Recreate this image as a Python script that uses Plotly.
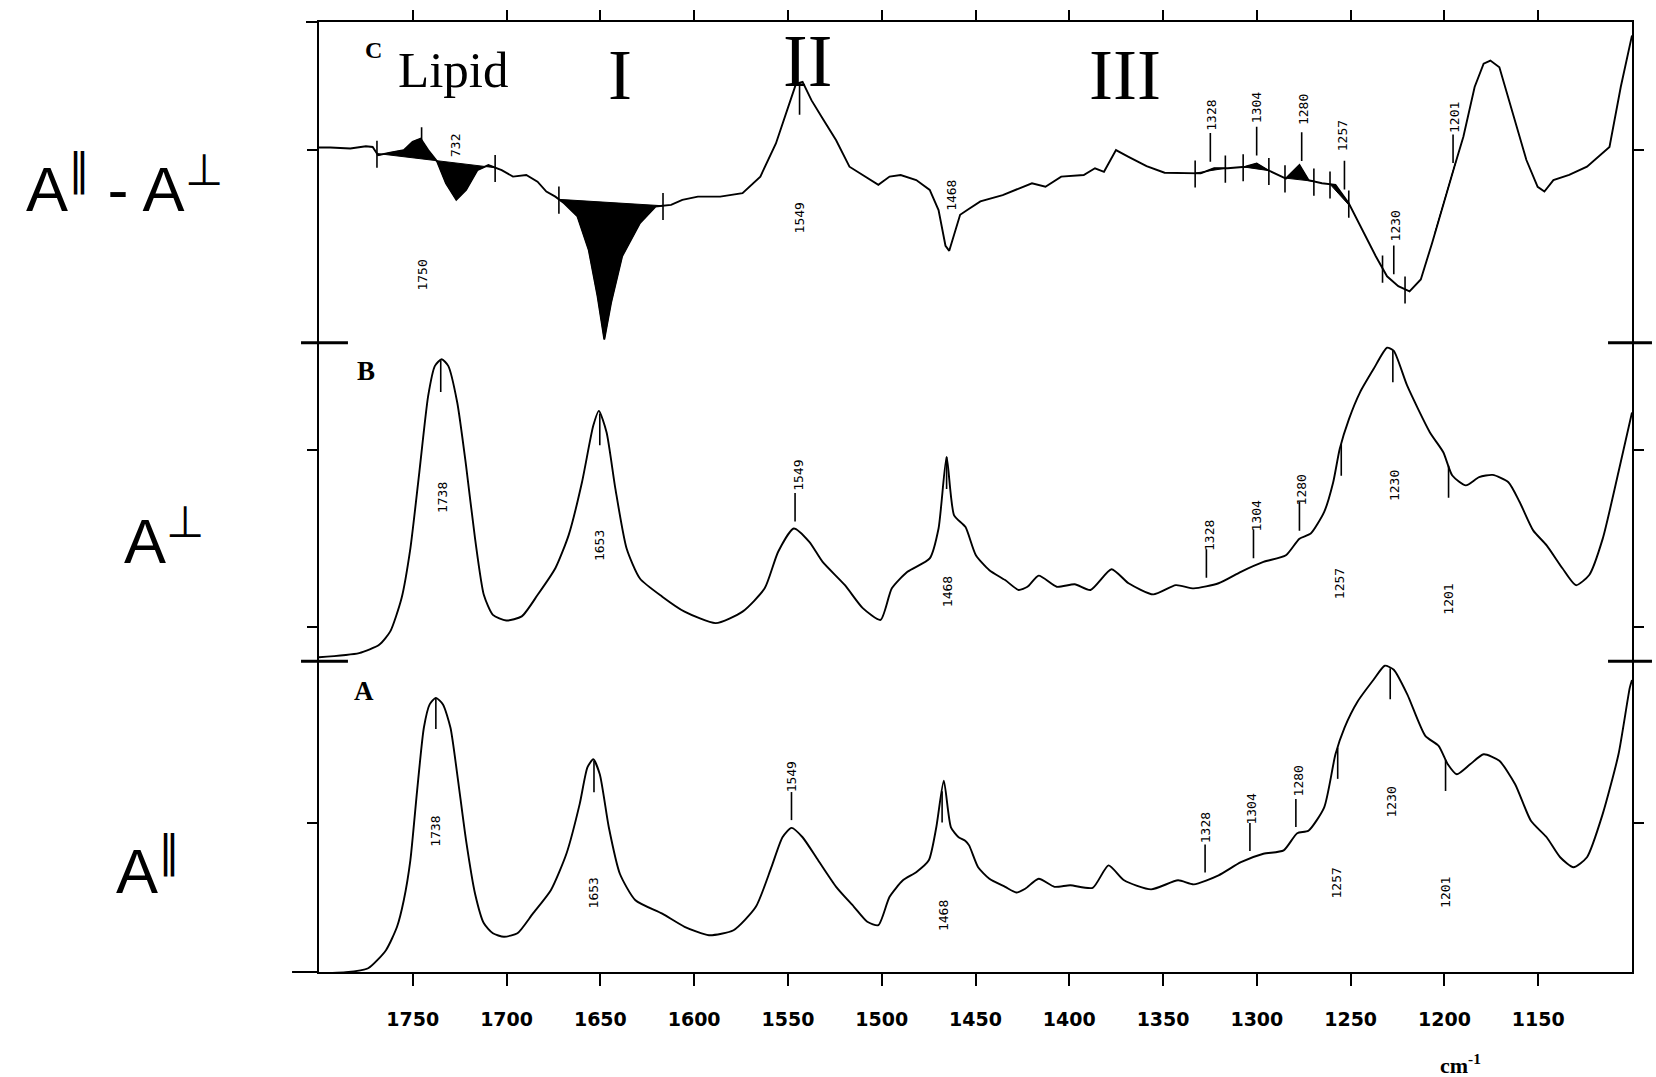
import numpy as np
import plotly.graph_objects as go

# ---------------- data ----------------
# Panel A  (A-parallel)
A_wn = [1800, 1785.7, 1773.8, 1764.3, 1758.4, 1754.8, 1751.3, 1747.7, 1744.1, 1741.0, 1737.7, 1733.9,
        1729.9, 1726.3, 1721.6, 1716.8, 1712.1, 1707.3, 1701.4, 1694.2, 1686.0, 1676.4, 1668.1, 1661.0,
        1656.9, 1653.8, 1650.3, 1645.5, 1639.6, 1631.3, 1617.0, 1605.1, 1592.1, 1579.0, 1567.1, 1558.8,
        1552.9, 1548.1, 1542.2, 1533.9, 1524.3, 1514.8, 1507.7, 1501.8, 1495.8, 1488.7, 1481.6, 1474.9,
        1470.9, 1466.9, 1463.1, 1459.0, 1455.5, 1453.4, 1448.6, 1442.6, 1434.2, 1428.3, 1423.5, 1416.3,
        1407.9, 1399.5, 1387.5, 1379.1, 1370.8, 1356.4, 1342.0, 1333.6, 1320.4, 1308.5, 1296.5, 1285.7,
        1278.5, 1272.5, 1264.1, 1258.1, 1253.3, 1246.2, 1237.8, 1231.8, 1227.0, 1219.8, 1210.2, 1203.1,
        1198.2, 1193.4, 1186.3, 1179.1, 1170.7, 1162.3, 1153.9, 1145.5, 1138.3, 1131.2, 1124.0, 1115.6,
        1107.2, 1101.2, 1100.0]
A_val = [0.0, 0.003, 0.016, 0.074, 0.149, 0.234, 0.362, 0.585, 0.787, 0.862, 0.883, 0.862,
         0.787, 0.638, 0.426, 0.255, 0.160, 0.128, 0.117, 0.128, 0.191, 0.266, 0.383, 0.543,
         0.660, 0.686, 0.638, 0.468, 0.319, 0.234, 0.191, 0.149, 0.122, 0.138, 0.213, 0.340,
         0.436, 0.466, 0.436, 0.362, 0.277, 0.213, 0.165, 0.154, 0.245, 0.298, 0.324, 0.362,
         0.468, 0.617, 0.468, 0.436, 0.425, 0.410, 0.340, 0.303, 0.277, 0.259, 0.271, 0.303,
         0.277, 0.282, 0.274, 0.346, 0.298, 0.269, 0.298, 0.285, 0.314, 0.356, 0.383, 0.394,
         0.449, 0.457, 0.532, 0.702, 0.787, 0.872, 0.941, 0.986, 0.973, 0.894, 0.761, 0.729,
         0.670, 0.638, 0.670, 0.702, 0.681, 0.606, 0.489, 0.436, 0.372, 0.340, 0.372, 0.511,
         0.702, 0.915, 0.940]

# Panel B  (A-perpendicular)
B_wn = [1800, 1778.6, 1767.9, 1762.0, 1756.0, 1751.3, 1746.5, 1741.8, 1738.2, 1734.6, 1731.1, 1726.3,
        1721.6, 1716.8, 1712.1, 1707.3, 1700.2, 1691.9, 1683.5, 1674.0, 1666.9, 1659.8, 1653.8, 1650.8,
        1646.7, 1642.0, 1636.0, 1628.9, 1617.0, 1605.1, 1588.5, 1574.2, 1562.4, 1555.2, 1546.9, 1538.6,
        1531.5, 1519.6, 1510.1, 1500.6, 1494.6, 1486.3, 1474.4, 1469.7, 1465.4, 1461.4, 1455.4, 1449.8,
        1442.6, 1434.2, 1427.0, 1422.3, 1416.3, 1406.7, 1397.1, 1388.7, 1377.5, 1368.4, 1355.2, 1343.2,
        1333.6, 1320.4, 1308.5, 1296.5, 1284.5, 1277.3, 1271.3, 1264.1, 1259.3, 1255.8, 1250.9, 1245.0,
        1237.8, 1230.6, 1227.0, 1219.8, 1207.8, 1200.6, 1195.8, 1188.6, 1181.5, 1174.3, 1165.9, 1159.9,
        1152.7, 1145.5, 1137.1, 1129.9, 1122.8, 1115.6, 1107.2, 1100.0]
B_val = [0.010, 0.023, 0.049, 0.091, 0.195, 0.351, 0.591, 0.830, 0.924, 0.945, 0.924, 0.809,
         0.611, 0.382, 0.205, 0.143, 0.125, 0.138, 0.205, 0.289, 0.393, 0.559, 0.736, 0.783,
         0.716, 0.539, 0.351, 0.257, 0.200, 0.153, 0.117, 0.153, 0.226, 0.341, 0.414, 0.372,
         0.309, 0.236, 0.164, 0.127, 0.226, 0.278, 0.320, 0.414, 0.638, 0.455, 0.419, 0.330,
         0.283, 0.252, 0.221, 0.231, 0.266, 0.231, 0.239, 0.221, 0.286, 0.242, 0.207, 0.236,
         0.226, 0.242, 0.278, 0.309, 0.330, 0.382, 0.398, 0.466, 0.559, 0.664, 0.757, 0.841,
         0.914, 0.981, 0.971, 0.861, 0.716, 0.653, 0.580, 0.549, 0.575, 0.582, 0.559, 0.497,
         0.408, 0.361, 0.289, 0.236, 0.268, 0.382, 0.591, 0.778]

# Panel C  (difference A-parallel - A-perpendicular)
C_wn = [1800, 1794, 1783.3, 1775, 1771.4, 1768.5, 1762.0, 1754.8, 1750.1, 1745.8, 1741.8, 1737.0,
        1732.3, 1726.8, 1721.6, 1715.6, 1709.7, 1702.6, 1696.6, 1689.5, 1683.5, 1678.8, 1674.0, 1669.3,
        1662.2, 1656.2, 1651.5, 1647.9, 1644.3, 1638.4, 1628.9, 1620.6, 1612.3, 1606.3, 1598.0, 1586.1,
        1574.2, 1564.7, 1556.4, 1550.5, 1545.7, 1542.2, 1537.4, 1531.5, 1524.3, 1517.2, 1510.1, 1501.8,
        1495.8, 1489.9, 1481.6, 1474.4, 1469.7, 1466.0, 1464.0, 1461.5, 1458.2, 1453.6, 1447.4, 1435.5,
        1419.9, 1412.7, 1404.3, 1392.3, 1386.3, 1381.5, 1375.1, 1368.4, 1358.8, 1349.2, 1337.2, 1330.0,
        1322.8, 1315.6, 1306.1, 1300.1, 1294.1, 1284.5, 1277.3, 1272.5, 1265.3, 1258.1, 1251.0, 1243.8,
        1236.6, 1230.6, 1224.6, 1218.6, 1212.6, 1206.6, 1200.6, 1194.7, 1189.9, 1183.9, 1179.1, 1175.5,
        1170.7, 1163.5, 1156.3, 1150.3, 1146.7, 1141.9, 1133.5, 1124.0, 1118.0, 1112.0, 1106.0, 1101.2,
        1100.0]
C_val = [0.008, 0.008, 0.005, 0.012, 0.010, -0.016, -0.008, 0.0, 0.026, 0.036, 0.0, -0.036,
         -0.104, -0.156, -0.125, -0.063, -0.047, -0.063, -0.083, -0.078, -0.099, -0.130, -0.146, -0.167,
         -0.208, -0.313, -0.458, -0.594, -0.479, -0.333, -0.229, -0.177, -0.172, -0.156, -0.146, -0.146,
         -0.135, -0.083, 0.021, 0.125, 0.208, 0.214, 0.156, 0.099, 0.031, -0.052, -0.078, -0.109,
         -0.083, -0.078, -0.094, -0.125, -0.188, -0.300, -0.316, -0.270, -0.203, -0.185, -0.161, -0.141,
         -0.104, -0.115, -0.083, -0.078, -0.057, -0.068, 0.0, -0.021, -0.050, -0.071, -0.071, -0.073,
         -0.057, -0.057, -0.052, -0.042, -0.063, -0.089, -0.047, -0.094, -0.104, -0.109, -0.167, -0.250,
         -0.333, -0.396, -0.427, -0.443, -0.406, -0.292, -0.167, -0.052, 0.042, 0.198, 0.271, 0.281,
         0.260, 0.115, -0.031, -0.115, -0.130, -0.094, -0.078, -0.052, -0.021, 0.010, 0.198, 0.333,
         0.360]

# x-axis tick labels (cm-1)
x_ticks = [1750, 1700, 1650, 1600, 1550, 1500, 1450, 1400, 1350, 1300, 1250, 1200, 1150]

# peak annotations: text and wavenumber of the marker
A_peak_text = ["1738", "1653", "1549", "1468", "1328", "1304", "1280", "1257", "1230", "1201"]
A_peak_wn = [1737.7, 1653.4, 1548.1, 1467.8, 1327.6, 1303.7, 1279.2, 1256.9, 1228.9, 1199.4]
B_peak_text = ["1738", "1653", "1549", "1468", "1328", "1304", "1280", "1257", "1230", "1201"]
B_peak_wn = [1735.1, 1650.3, 1546.2, 1465.4, 1326.9, 1301.8, 1277.3, 1255.0, 1227.5, 1197.8]
C_peak_text = ["1750", "732", "1549", "1468", "1328", "1304", "1280", "1257", "1230", "1201"]
C_peak_wn = [1545.0, 1727.0, 1543.8, 1466.0, 1324.8, 1300.1, 1276.1, 1253.3, 1227.0, 1195.4]
# baseline end marks of the integrated (filled) bands in C
C_base_marks = [1769.1, 1745.3, 1706.1, 1672.1, 1616.6, 1332.9, 1316.8, 1307.3, 1293.6,
                1285.0, 1269.6, 1261.0, 1251.0, 1233.0, 1221.0]
C_fill_bands = [(1769.1, 1706.1), (1672.1, 1616.6), (1332.9, 1316.8), (1307.3, 1293.6),
                (1285.0, 1269.6), (1261.0, 1250.0), (1205.0, 1194.0)]

# ---------------- layout helpers (positions / styles) ----------------
L, R, T, B_ = 319, 22, 18, 105
W, H = 1656, 1077
PH = H - T - B_
dom_A = [0.0, 0.327]
dom_B = [0.327, 0.6625]
dom_C = [0.6625, 1.0]


def px2paper(xp, yp):
    return (xp - L) / (W - L - R), (H - B_ - yp) / PH


def curve_at(wn, val, x):
    return float(np.interp(x, wn[::-1], val[::-1]))


def marker_lines(wn, val, xs, kinds):
    lx, ly = [], []
    for x, k in zip(xs, kinds):
        c = curve_at(wn, val, x)
        if k == 'down':
            y0, y1 = c, c - 0.10
        elif k == 'up':
            y0, y1 = c + 0.025, c + 0.115
        elif k == 'cross':
            y0, y1 = c + 0.04, c - 0.045
        else:
            continue
        lx += [x, x, None]
        ly += [y0, y1, None]
    return lx, ly


fig = go.Figure()
LINE = dict(color='black', width=1.9)

fig.add_trace(go.Scatter(x=A_wn, y=A_val, mode='lines', line=dict(LINE, shape='spline', smoothing=0.6),
                         xaxis='x', yaxis='y', showlegend=False, hoverinfo='skip'))
fig.add_trace(go.Scatter(x=B_wn, y=B_val, mode='lines', line=dict(LINE, shape='spline', smoothing=0.6),
                         xaxis='x', yaxis='y2', showlegend=False, hoverinfo='skip'))

# filled bands in C (between curve and straight baseline)
cw = np.array(C_wn)
cv = np.array(C_val)
for a, b in C_fill_bands:
    inside = (cw < a) & (cw > b)
    xs = [a] + list(cw[inside]) + [b]
    ys = [curve_at(C_wn, C_val, a)] + list(cv[inside]) + [curve_at(C_wn, C_val, b)]
    px = xs + [xs[0]]
    py = ys + [ys[0]]
    fig.add_trace(go.Scatter(x=px, y=py, mode='lines', fill='toself', fillcolor='black',
                             line=dict(color='black', width=1), xaxis='x', yaxis='y3',
                             showlegend=False, hoverinfo='skip'))

fig.add_trace(go.Scatter(x=C_wn, y=C_val, mode='lines', line=LINE,
                         xaxis='x', yaxis='y3', showlegend=False, hoverinfo='skip'))

# peak marker lines
kinds_AB = ['down', 'down', 'up', 'down', 'up', 'up', 'up', 'down', 'down', 'down']
for wn, val, pw, ax in [(A_wn, A_val, A_peak_wn, 'y'), (B_wn, B_val, B_peak_wn, 'y2')]:
    lx, ly = marker_lines(wn, val, pw, kinds_AB)
    fig.add_trace(go.Scatter(x=lx, y=ly, mode='lines', line=dict(color='black', width=1.6),
                             xaxis='x', yaxis=ax, showlegend=False, hoverinfo='skip'))
kinds_C = ['none', 'none', 'down', 'none', 'up', 'up', 'up', 'up', 'up', 'up']
lx, ly = marker_lines(C_wn, C_val, C_peak_wn, kinds_C)
lx2, ly2 = marker_lines(C_wn, C_val, C_base_marks, ['cross'] * len(C_base_marks))
fig.add_trace(go.Scatter(x=lx + lx2, y=ly + ly2, mode='lines', line=dict(color='black', width=1.6),
                         xaxis='x', yaxis='y3', showlegend=False, hoverinfo='skip'))

# peak label positions (x in cm-1, y in panel units)
A_lab_pos = [(1737.6, 0.454), (1653.6, 0.258), (1548.2, 0.629), (1466.7, 0.184), (1327.3, 0.467),
             (1302.6, 0.528), (1277.9, 0.616), (1257.6, 0.289), (1228.4, 0.548), (1199.1, 0.258)]
B_lab_pos = [(1734.5, 0.512), (1650.5, 0.360), (1544.3, 0.581), (1464.5, 0.215), (1325.6, 0.393),
             (1300.4, 0.452), (1276.2, 0.535), (1255.9, 0.241), (1226.7, 0.548), (1198.0, 0.191)]
C_lab_pos = [(1745.0, -0.393), (1727.5, 0.016), (1543.7, -0.212), (1462.8, -0.142), (1323.9, 0.108),
             (1300.4, 0.132), (1275.0, 0.128), (1254.2, 0.046), (1225.6, -0.238), (1194.7, 0.102)]

annotations = []
lab_font = dict(family='DejaVu Sans Mono', size=13, color='black')
for texts, pos, yref in [(A_peak_text, A_lab_pos, 'y'), (B_peak_text, B_lab_pos, 'y2'),
                         (C_peak_text, C_lab_pos, 'y3')]:
    for t, (x, y) in zip(texts, pos):
        annotations.append(dict(text=t, x=x, y=y, xref='x', yref=yref, showarrow=False,
                                textangle=-90, font=lab_font, xanchor='center', yanchor='middle'))

serif = 'Liberation Serif'
sans = 'Liberation Sans'


def paper_text(text, xp, yp, size, family, bold=False):
    x, y = px2paper(xp, yp)
    annotations.append(dict(text=text, x=x, y=y, xref='paper', yref='paper', showarrow=False,
                            xanchor='center', yanchor='middle',
                            font=dict(family=family, size=size, color='black',
                                      weight='bold' if bold else 'normal')))


paper_text('C', 374, 46, 24, serif, bold=True)
paper_text('Lipid', 454, 66, 51, serif)
paper_text('I', 620, 71, 72, serif)
paper_text('II', 808, 57, 74, serif)
paper_text('III', 1126, 71, 72, serif)
paper_text('B', 366, 368, 27, serif, bold=True)
paper_text('A', 364, 690, 27, serif, bold=True)
paper_text('cm<sup>-1</sup>', 1462, 1064, 22, serif, bold=True)
paper_text('A<sup>\u2225</sup> - A<sup>\u22a5</sup>', 124, 181, 63, sans)
paper_text('A<sup>\u22a5</sup>', 164, 535, 63, sans)
paper_text('A<sup>\u2225</sup>', 148, 866, 63, sans)

# panel boundary bars and frame extensions
shapes = []
for yb in [dom_A[1], dom_B[1]]:
    x0, _ = px2paper(301, 0)
    x1, _ = px2paper(348, 0)
    shapes.append(dict(type='line', xref='paper', yref='paper', x0=x0, x1=x1, y0=yb, y1=yb,
                       line=dict(color='black', width=3)))
    x0, _ = px2paper(1610, 0)
    x1, _ = px2paper(1654, 0)
    shapes.append(dict(type='line', xref='paper', yref='paper', x0=x0, x1=x1, y0=yb, y1=yb,
                       line=dict(color='black', width=3)))
xe, _ = px2paper(292, 0)
shapes.append(dict(type='line', xref='paper', yref='paper', x0=xe, x1=0, y0=0, y1=0,
                   line=dict(color='black', width=2)))
xe, _ = px2paper(306, 0)
shapes.append(dict(type='line', xref='paper', yref='paper', x0=xe, x1=0, y0=1, y1=1,
                   line=dict(color='black', width=2)))

yax_common = dict(showline=True, linecolor='black', linewidth=2, mirror='ticks', ticks='outside',
                  ticklen=10, tickwidth=1.5, tickcolor='black', showticklabels=False,
                  showgrid=False, zeroline=False, fixedrange=True)

fig.update_layout(
    width=W, height=H,
    margin=dict(l=L, r=R, t=T, b=B_),
    paper_bgcolor='white', plot_bgcolor='white',
    showlegend=False,
    xaxis=dict(range=[1800, 1100], domain=[0, 1], anchor='y', showline=True, linecolor='black',
               linewidth=2, ticks='outside', ticklen=12, tickwidth=1.5, tickcolor='black',
               tickvals=x_ticks, ticktext=[str(v) for v in x_ticks], ticklabelstandoff=17,
               tickfont=dict(family='DejaVu Sans', size=19, color='black', weight='bold'),
               showgrid=False, zeroline=False),
    xaxis2=dict(range=[1800, 1100], overlaying='x', anchor='y3', side='top', showline=True,
                linecolor='black', linewidth=2, ticks='outside', ticklen=10, tickwidth=1.5,
                tickcolor='black', tickvals=x_ticks, showticklabels=False, showgrid=False,
                zeroline=False),
    yaxis=dict(yax_common, domain=dom_A, range=[0.004, 1.0], tickvals=[0.481]),
    yaxis2=dict(yax_common, domain=dom_B, range=[-0.003, 0.997], tickvals=[0.106, 0.661]),
    yaxis3=dict(yax_common, domain=dom_C, range=[-0.604, 0.402], tickvals=[0.0]),
    annotations=annotations,
    shapes=shapes,
)

# invisible point so the top (mirror) axis is drawn
fig.add_trace(go.Scatter(x=[1800], y=[0], xaxis='x2', yaxis='y3', mode='markers',
                         marker=dict(opacity=0), showlegend=False, hoverinfo='skip'))

fig.write_html('out.html')
